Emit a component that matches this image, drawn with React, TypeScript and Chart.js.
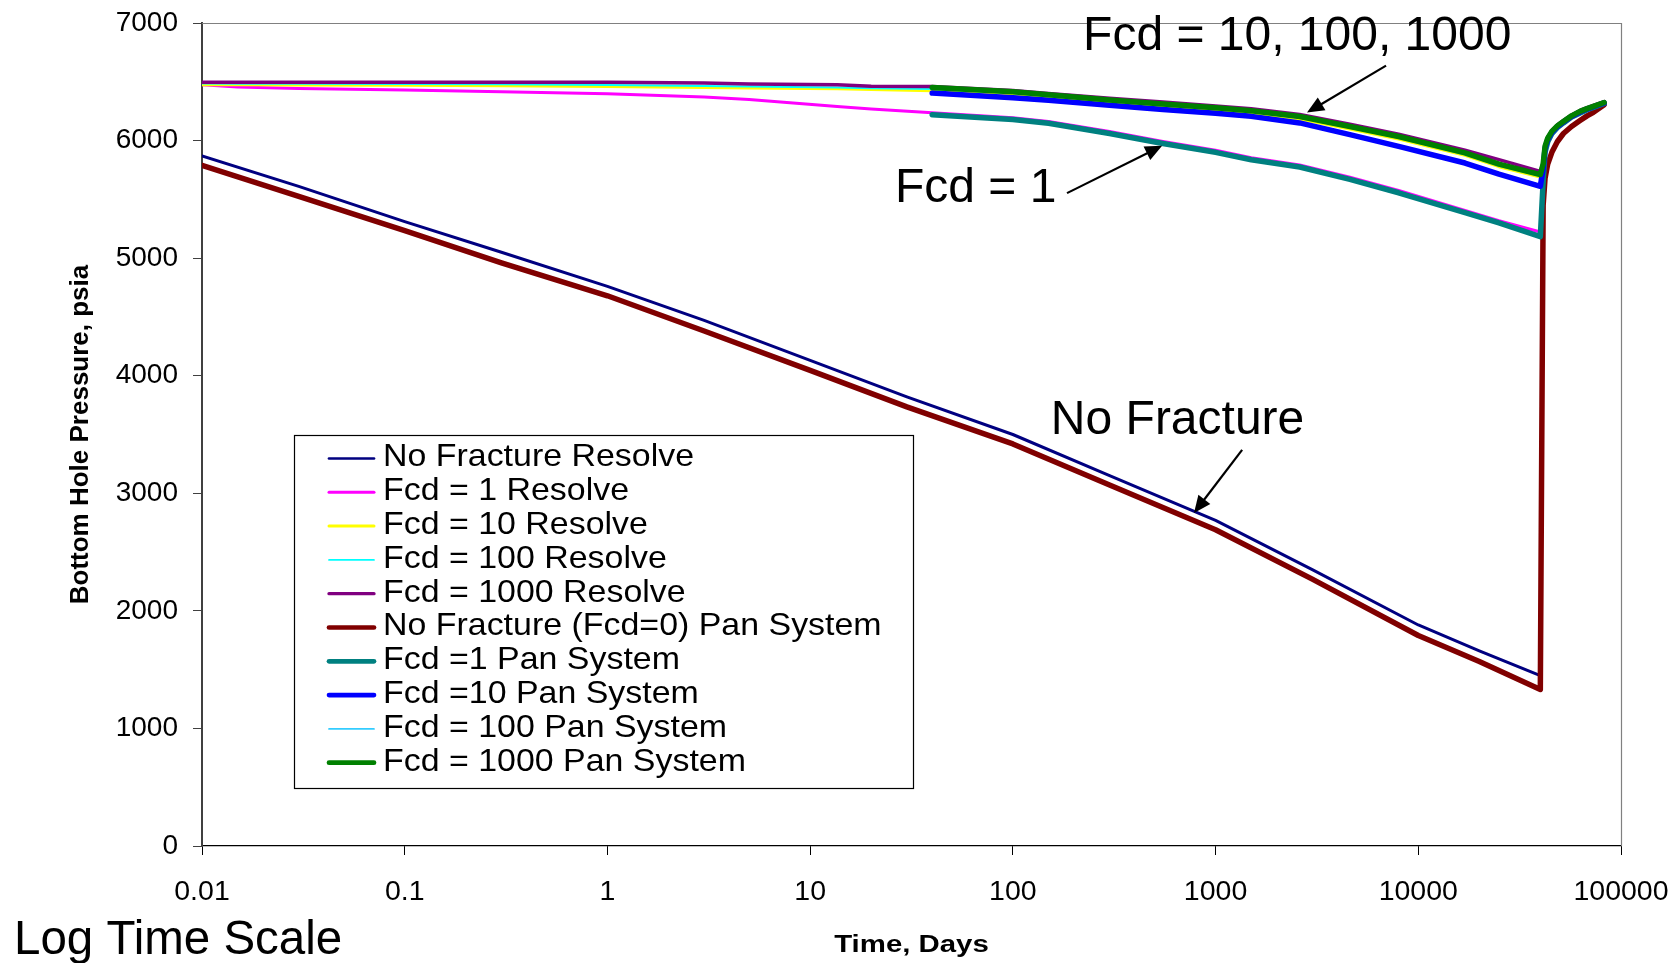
import React, { useEffect, useRef } from "react";
import { Chart, registerables } from "chart.js";

Chart.register(...registerables);

const FONT = '"Liberation Sans", Arial, Helvetica, sans-serif';

// ---------- axis ticks ----------
const X_TICKS = [0.01, 0.1, 1, 10, 100, 1000, 10000, 100000];
const X_TICK_LABELS = ["0.01", "0.1", "1", "10", "100", "1000", "10000", "100000"];
const Y_MIN = 0;
const Y_MAX = 7000;
const Y_STEP = 1000;

// ---------- time arrays (days) ----------
const NF_T = [0.01, 0.03, 0.1, 0.3, 1, 3, 10, 30, 100, 300, 1000, 3000, 10000, 20000, 40000];
const EARLY_T = [0.01, 0.015, 0.03, 0.1, 0.3, 1, 3, 5, 13.6, 20];
const LATE_T = [40, 100, 150, 300, 550, 1000, 1500, 2600, 4600, 8000, 17000, 25000, 40000];
const BU_T = [41300, 42200, 43500, 45600, 48500, 52000, 57000, 62800, 68000, 73100, 82600];

// ---------- pressures (psia) ----------
const NF_RESOLVE_P = [5870, 5610, 5310, 5050, 4760, 4470, 4130, 3820, 3500, 3150, 2770, 2350, 1880, 1660, 1450];
const NF_PAN_P = [5790, 5525, 5235, 4960, 4680, 4380, 4045, 3735, 3420, 3070, 2690, 2270, 1790, 1570, 1331];
const NF_PAN_BU = [5450, 5680, 5800, 5900, 5990, 6060, 6120, 6170, 6210, 6240, 6305];

const FCD1_RES_EARLY = [6475, 6455, 6442, 6430, 6415, 6398, 6370, 6350, 6290, 6268];
const FCD1_RES_LATE = [6236, 6195, 6163, 6078, 5993, 5918, 5855, 5793, 5688, 5575, 5405, 5318, 5222];
const FCD1_RES_BU = [5653, 5903, 5993, 6063, 6113, 6153, 6203, 6238, 6265, 6285, 6319];

const FCD10_RES_EARLY = [6475, 6474, 6472, 6470, 6466, 6460, 6452, 6447, 6440, 6434];
const FCD10_RES_LATE = [6424, 6393, 6368, 6323, 6290, 6258, 6232, 6183, 6098, 6013, 5874, 5778, 5690];
const FCD10_RES_BU = [5765, 5940, 6013, 6075, 6123, 6162, 6210, 6248, 6273, 6293, 6326];

const FCD100_RES_EARLY = [6485, 6484, 6483, 6481, 6478, 6472, 6465, 6460, 6452, 6446];
const FCD100_RES_LATE = [6438, 6405, 6382, 6337, 6304, 6272, 6246, 6197, 6112, 6027, 5888, 5792, 5703];
const FCD100_RES_BU = [5797, 5947, 6017, 6075, 6122, 6160, 6207, 6245, 6269, 6288, 6321];

const FCD1000_RES_EARLY = [6495, 6495, 6495, 6495, 6495, 6495, 6490, 6481, 6475, 6463];
const FCD1000_RES_LATE = [6460, 6425, 6400, 6360, 6328, 6295, 6270, 6222, 6140, 6055, 5918, 5838, 5738];
const FCD1000_RES_BU = [5808, 5958, 6028, 6086, 6133, 6171, 6218, 6256, 6280, 6299, 6332];

const FCD1_PAN_LATE = [6220, 6180, 6147, 6060, 5975, 5900, 5837, 5775, 5670, 5556, 5387, 5300, 5183];
const FCD1_PAN_BU = [5650, 5900, 5990, 6060, 6110, 6150, 6200, 6235, 6262, 6282, 6316];

const FCD10_PAN_LATE = [6404, 6365, 6342, 6300, 6265, 6232, 6206, 6150, 6050, 5950, 5809, 5715, 5611];
const FCD10_PAN_BU = [5760, 5935, 6008, 6070, 6118, 6157, 6205, 6243, 6268, 6288, 6321];

const FCD100_PAN_LATE = [6440, 6405, 6380, 6335, 6302, 6270, 6244, 6195, 6108, 6022, 5882, 5786, 5698];
const FCD100_PAN_BU = [5790, 5945, 6015, 6075, 6122, 6160, 6208, 6246, 6270, 6290, 6323];

const FCD1000_PAN_LATE = [6452, 6415, 6390, 6345, 6312, 6280, 6254, 6205, 6120, 6035, 5896, 5800, 5711];
const FCD1000_PAN_BU = [5800, 5950, 6020, 6078, 6125, 6163, 6210, 6248, 6272, 6291, 6324];

// ---------- series styling ----------
const SERIES_LABELS = [
  "No Fracture Resolve",
  "Fcd = 1 Resolve",
  "Fcd = 10 Resolve",
  "Fcd = 100 Resolve",
  "Fcd = 1000 Resolve",
  "No Fracture (Fcd=0) Pan System",
  "Fcd =1 Pan System",
  "Fcd =10 Pan System",
  "Fcd = 100 Pan System",
  "Fcd = 1000 Pan System",
];
const SERIES_COLORS = [
  "#000080", "#FF00FF", "#FFFF00", "#00FFFF", "#800080",
  "#800000", "#008080", "#0000FF", "#33CCFF", "#008000",
];
const SERIES_WIDTHS = [3, 3, 3, 2, 3.5, 5.5, 5.5, 5.5, 2, 5.5];
const LEGEND_WIDTHS = [2.7, 3, 3, 1.7, 3.3, 4.7, 4.7, 4.7, 1.7, 4.7];

// ---------- annotations (anchored in data coordinates) ----------
const ANNOTATIONS = [
  { text: "Fcd = 10, 100, 1000", x: 222, y: 6773, tail: [6934, 6637], head: [2825, 6238] },
  { text: "Fcd = 1", x: 26.2, y: 5480, tail: [185, 5553], head: [545, 5956] },
  { text: "No Fracture", x: 154, y: 3505, tail: [1352, 3369], head: [783, 2833] },
];

const LEGEND_BOX = { left: 294, top: 435, right: 913, bottom: 788, firstRow: 458.5, rowStep: 33.8, lineX0: 329, lineX1: 374, textX: 383, fontSize: 32, stretch: 1.06 };

function pts(times: number[][], values: number[][]) {
  const out: { x: number; y: number }[] = [];
  times.forEach((ts, k) => ts.forEach((t, i) => out.push({ x: t, y: values[k][i] })));
  return out;
}

const SERIES_DATA = [
  pts([NF_T], [NF_RESOLVE_P]),
  pts([EARLY_T, LATE_T, BU_T], [FCD1_RES_EARLY, FCD1_RES_LATE, FCD1_RES_BU]),
  pts([EARLY_T, LATE_T, BU_T], [FCD10_RES_EARLY, FCD10_RES_LATE, FCD10_RES_BU]),
  pts([EARLY_T, LATE_T, BU_T], [FCD100_RES_EARLY, FCD100_RES_LATE, FCD100_RES_BU]),
  pts([EARLY_T, LATE_T, BU_T], [FCD1000_RES_EARLY, FCD1000_RES_LATE, FCD1000_RES_BU]),
  pts([NF_T, BU_T], [NF_PAN_P, NF_PAN_BU]),
  pts([LATE_T, BU_T], [FCD1_PAN_LATE, FCD1_PAN_BU]),
  pts([LATE_T, BU_T], [FCD10_PAN_LATE, FCD10_PAN_BU]),
  pts([LATE_T, BU_T], [FCD100_PAN_LATE, FCD100_PAN_BU]),
  pts([LATE_T, BU_T], [FCD1000_PAN_LATE, FCD1000_PAN_BU]),
];

function drawArrow(ctx: CanvasRenderingContext2D, x0: number, y0: number, x1: number, y1: number) {
  const dx = x1 - x0;
  const dy = y1 - y0;
  const len = Math.hypot(dx, dy);
  const ux = dx / len;
  const uy = dy / len;
  const headLen = 17;
  const headHalf = 7.5;
  const bx = x1 - ux * headLen;
  const by = y1 - uy * headLen;
  ctx.beginPath();
  ctx.moveTo(x0, y0);
  ctx.lineTo(bx + ux * 2, by + uy * 2);
  ctx.lineWidth = 2.2;
  ctx.strokeStyle = "#000";
  ctx.stroke();
  ctx.beginPath();
  ctx.moveTo(x1, y1);
  ctx.lineTo(bx - uy * headHalf, by + ux * headHalf);
  ctx.lineTo(bx + uy * headHalf, by - ux * headHalf);
  ctx.closePath();
  ctx.fillStyle = "#000";
  ctx.fill();
}

function zeroPadding(s: any) {
  s.paddingTop = 0;
  s.paddingBottom = 0;
  s.paddingLeft = 0;
  s.paddingRight = 0;
}

const overlayPlugin = {
  id: "overlay",
  beforeDatasetsDraw(chart: any) {
    const { ctx, chartArea: a } = chart;
    ctx.save();
    ctx.strokeStyle = "#808080";
    ctx.lineWidth = 1.2;
    ctx.beginPath();
    ctx.moveTo(a.left, a.top + 0.5);
    ctx.lineTo(a.right + 0.5, a.top + 0.5);
    ctx.lineTo(a.right + 0.5, a.bottom);
    ctx.stroke();
    ctx.restore();
  },
  afterDatasetsDraw(chart: any) {
    const { ctx, scales } = chart;
    const xs = scales.x;
    const ys = scales.y;
    ctx.save();
    // annotations
    ctx.font = `48px ${FONT}`;
    ctx.textAlign = "left";
    ctx.textBaseline = "alphabetic";
    ANNOTATIONS.forEach((an) => {
      ctx.fillStyle = "#000";
      ctx.fillText(an.text, xs.getPixelForValue(an.x), ys.getPixelForValue(an.y));
      drawArrow(
        ctx,
        xs.getPixelForValue(an.tail[0]),
        ys.getPixelForValue(an.tail[1]),
        xs.getPixelForValue(an.head[0]),
        ys.getPixelForValue(an.head[1])
      );
    });

    // legend
    const L = LEGEND_BOX;
    ctx.fillStyle = "#fff";
    ctx.fillRect(L.left, L.top, L.right - L.left, L.bottom - L.top);
    ctx.strokeStyle = "#000";
    ctx.lineWidth = 1.2;
    ctx.strokeRect(L.left + 0.5, L.top + 0.5, L.right - L.left, L.bottom - L.top);
    chart.data.datasets.forEach((ds: any, i: number) => {
      const y = L.firstRow + i * L.rowStep;
      ctx.beginPath();
      ctx.moveTo(L.lineX0, y);
      ctx.lineTo(L.lineX1, y);
      ctx.strokeStyle = ds.borderColor;
      ctx.lineWidth = ds.legendWidth;
      ctx.lineCap = "round";
      ctx.stroke();
      ctx.save();
      ctx.translate(L.textX, y - 1);
      ctx.scale(L.stretch, 1);
      ctx.font = `${L.fontSize}px ${FONT}`;
      ctx.textBaseline = "middle";
      ctx.textAlign = "left";
      ctx.fillStyle = "#000";
      ctx.fillText(ds.label, 0, 0);
      ctx.restore();
    });

    // x axis title (stretched, bold)
    ctx.save();
    ctx.translate((chart.chartArea.left + chart.chartArea.right) / 2, 952);
    ctx.scale(1.25, 1);
    ctx.font = `bold 23.5px ${FONT}`;
    ctx.textAlign = "center";
    ctx.textBaseline = "alphabetic";
    ctx.fillStyle = "#000";
    ctx.fillText("Time, Days", 0, 0);
    ctx.restore();

    // corner caption
    ctx.font = `47.5px ${FONT}`;
    ctx.textAlign = "left";
    ctx.textBaseline = "alphabetic";
    ctx.fillStyle = "#000";
    ctx.fillText("Log Time Scale", 14, 954);
    ctx.restore();
  },
};

export default function App() {
  const ref = useRef<HTMLCanvasElement>(null);
  useEffect(() => {
    const canvas = ref.current;
    if (!canvas) return;
    const n = SERIES_LABELS.length;
    const chart = new Chart(canvas, {
      type: "line",
      data: {
        datasets: SERIES_LABELS.map((label, i) => ({
          label,
          data: SERIES_DATA[i],
          borderColor: SERIES_COLORS[i],
          backgroundColor: SERIES_COLORS[i],
          borderWidth: SERIES_WIDTHS[i],
          legendWidth: LEGEND_WIDTHS[i],
          pointRadius: 0,
          tension: 0,
          fill: false,
          borderJoinStyle: "round",
          borderCapStyle: "round",
          order: n - i,
        })) as any,
      },
      options: {
        responsive: false,
        animation: false,
        devicePixelRatio: 1,
        parsing: false as any,
        normalized: true,
        layout: { padding: { left: 0, top: 23, right: 55, bottom: 0 } },
        plugins: {
          legend: { display: false },
          tooltip: { enabled: false },
          title: { display: false },
        },
        scales: {
          x: {
            type: "logarithmic",
            min: X_TICKS[0],
            max: X_TICKS[X_TICKS.length - 1],
            afterBuildTicks: (s: any) => {
              s.ticks = X_TICKS.map((v) => ({ value: v }));
            },
            afterFit: (s: any) => {
              s.height = 117;
              zeroPadding(s);
            },
            ticks: {
              autoSkip: false,
              maxRotation: 0,
              minRotation: 0,
              padding: 20,
              color: "#000",
              font: { family: FONT, size: 28.5, lineHeight: 1.2 },
              callback: (v: any) => {
                const idx = X_TICKS.indexOf(Number(v));
                return idx >= 0 ? X_TICK_LABELS[idx] : "";
              },
            },
            grid: { drawOnChartArea: false, drawTicks: true, tickLength: 9, color: "#000", lineWidth: 1 },
            border: { display: true, color: "#000", width: 1.2 },
          },
          y: {
            type: "linear",
            min: Y_MIN,
            max: Y_MAX,
            afterFit: (s: any) => {
              s.width = 202;
              zeroPadding(s);
            },
            ticks: {
              stepSize: Y_STEP,
              padding: 15,
              color: "#000",
              font: { family: FONT, size: 28, lineHeight: 1.2 },
              callback: (v: any) => String(v),
            },
            grid: { drawOnChartArea: false, drawTicks: true, tickLength: 9, color: "#404040", lineWidth: 1 },
            border: { display: true, color: "#404040", width: 2 },
            title: {
              display: true,
              text: "Bottom Hole Pressure, psia",
              color: "#000",
              font: { family: FONT, size: 26, weight: "bold", lineHeight: 1.2 },
              padding: { top: 65, bottom: 0 },
            },
          },
        },
      },
      plugins: [overlayPlugin],
    } as any);
    return () => chart.destroy();
  }, []);

  return (
    <div style={{ position: "fixed", left: 0, top: 0, width: 1676, height: 963, background: "#fff" }}>
      <canvas ref={ref} width={1676} height={963} style={{ display: "block", width: 1676, height: 963 }} />
    </div>
  );
}
